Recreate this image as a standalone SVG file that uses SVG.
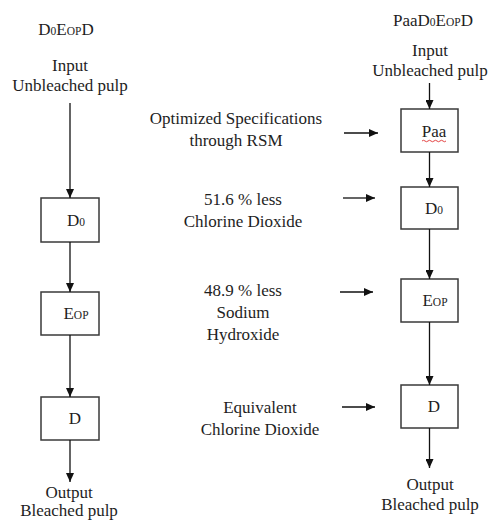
<svg xmlns="http://www.w3.org/2000/svg" width="493" height="520" viewBox="0 0 493 520" font-family="'Liberation Serif', 'Times New Roman', Times, serif">
<style>
text{font-family:'Liberation Serif','Times New Roman',Times,serif;font-size:17px;fill:#1e1e1e;text-anchor:middle}
.sm{font-size:11.5px}
.box{fill:#fff;stroke:#3a3a3a;stroke-width:1.5}
.conn line{stroke:#111;stroke-width:1.3;marker-end:url(#ah)}
</style>
<defs>
<marker id="ah" markerUnits="userSpaceOnUse" markerWidth="9" markerHeight="8" refX="9" refY="4" orient="auto">
<path d="M0,0 L9,4 L0,8 z" fill="#111"/>
</marker>
</defs>
<rect width="493" height="520" fill="#fff"/>

<g id="left-title"><text x="66" y="35">D<tspan class="sm">0</tspan>E<tspan class="sm">OP</tspan>D</text></g>
<g id="left-input"><text x="70" y="71">Input</text><text x="70" y="91">Unbleached pulp</text></g>
<g id="left-D0"><rect class="box" x="41" y="198" width="58" height="44"/><text x="76" y="226">D<tspan class="sm">0</tspan></text></g>
<g id="left-Eop"><rect class="box" x="41" y="292" width="58" height="43"/><text x="76" y="319">E<tspan class="sm">OP</tspan></text></g>
<g id="left-D"><rect class="box" x="41" y="397" width="58" height="43"/><text x="75" y="424">D</text></g>
<g id="left-output"><text x="69" y="498">Output</text><text x="69" y="516">Bleached pulp</text></g>

<g id="right-title"><text x="433" y="26">PaaD<tspan class="sm">0</tspan>E<tspan class="sm">OP</tspan>D</text></g>
<g id="right-input"><text x="430" y="56">Input</text><text x="430" y="76">Unbleached pulp</text></g>
<g id="right-Paa"><rect class="box" x="401" y="109" width="57" height="43"/><text x="434" y="137">Paa</text>
<path d="M422,141 q1.5,-1.5 3,0 t3,0 t3,0 t3,0 t3,0 t3,0 t3,0 t3,0" fill="none" stroke="#e03030" stroke-width="0.9"/></g>
<g id="right-D0"><rect class="box" x="401" y="187" width="57" height="42"/><text x="434" y="214">D<tspan class="sm">0</tspan></text></g>
<g id="right-Eop"><rect class="box" x="401" y="279" width="57" height="43"/><text x="435" y="306">E<tspan class="sm">OP</tspan></text></g>
<g id="right-D"><rect class="box" x="401" y="385" width="57" height="43"/><text x="434" y="412">D</text></g>
<g id="right-output"><text x="430" y="490">Output</text><text x="430" y="510">Bleached pulp</text></g>

<g id="note-rsm"><text x="236" y="124">Optimized Specifications</text><text x="236" y="146">through RSM</text></g>
<g id="note-clo2"><text x="243" y="205">51.6 % less</text><text x="243" y="227">Chlorine Dioxide</text></g>
<g id="note-naoh"><text x="243" y="296">48.9 % less</text><text x="243" y="318">Sodium</text><text x="243" y="340">Hydroxide</text></g>
<g id="note-equiv"><text x="260" y="413">Equivalent</text><text x="260" y="435">Chlorine Dioxide</text></g>

<g id="connectors" class="conn">
<line x1="70" y1="103" x2="70" y2="198"/>
<line x1="70" y1="242" x2="70" y2="292"/>
<line x1="70" y1="335" x2="70" y2="397"/>
<line x1="70" y1="440" x2="70" y2="482"/>
<line x1="429.5" y1="83" x2="429.5" y2="109"/>
<line x1="429.5" y1="152" x2="429.5" y2="187"/>
<line x1="429.5" y1="229" x2="429.5" y2="279"/>
<line x1="429.5" y1="322" x2="429.5" y2="385"/>
<line x1="429.5" y1="428" x2="429.5" y2="468"/>
<line x1="344" y1="133" x2="378" y2="133"/>
<line x1="343" y1="198" x2="375" y2="198"/>
<line x1="340" y1="292" x2="373" y2="292"/>
<line x1="342" y1="407" x2="375" y2="407"/>
</g>
</svg>
